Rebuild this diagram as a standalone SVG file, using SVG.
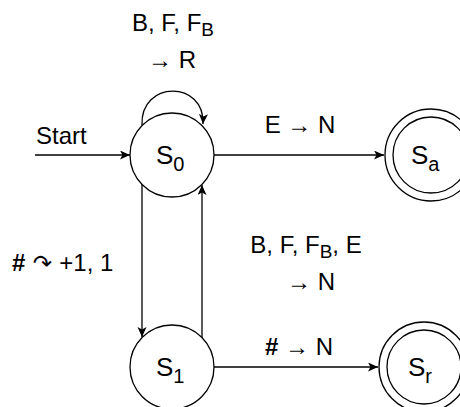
<svg xmlns="http://www.w3.org/2000/svg" width="460" height="407" viewBox="0 0 460 407">
<style>
.st{fill:#fff;stroke:#000;stroke-width:1.3}
.e{fill:none;stroke:#000;stroke-width:1.3}
text{font-family:"Liberation Sans",Arial,sans-serif;fill:#000}
.lb{font-size:24px}
.nm{font-size:26px}
.sub{font-size:19px}
.nsub{font-size:20px}
.b{font-weight:bold}
</style>
<defs>
<marker id="ah" markerUnits="userSpaceOnUse" markerWidth="12" markerHeight="10" refX="10" refY="4.5" orient="auto">
<path d="M0,0 L10,4.5 L0,9 L2.5,4.5 z" fill="#000"/>
</marker>
</defs>
<g id="edges">
<path class="e" d="M35,155 L130,155" marker-end="url(#ah)"/>
<path class="e" d="M142,125 C140,80 205,80 203,124" marker-end="url(#ah)"/>
<path class="e" d="M214,155 L384,155" marker-end="url(#ah)"/>
<path class="e" d="M142,184 L142,337" marker-end="url(#ah)"/>
<path class="e" d="M202,338 L202,185" marker-end="url(#ah)"/>
<path class="e" d="M214,367 L378,367" marker-end="url(#ah)"/>
</g>
<g id="labels">
<text class="lb" x="173" y="31" text-anchor="middle">B, F, F<tspan class="sub" dy="5">B</tspan></text>
<text class="lb" x="172" y="68" text-anchor="middle">→ R</text>
<text class="lb" x="36" y="144">Start</text>
<text class="lb" x="300" y="133" text-anchor="middle">E → N</text>
<text class="lb" x="12" y="271"><tspan class="b">#</tspan><tspan font-family="DejaVu Sans" font-size="23"> ↷ </tspan>+1, 1</text>
<text class="lb" x="306" y="253" text-anchor="middle">B, F, F<tspan class="sub" dy="5">B</tspan><tspan dy="-5">, E</tspan></text>
<text class="lb" x="311" y="290" text-anchor="middle">→ N</text>
<text class="lb" x="299" y="355" text-anchor="middle"><tspan class="b">#</tspan> → N</text>
</g>
<g id="S0">
<circle class="st" cx="172" cy="155" r="42"/>
<text class="nm" x="156" y="164">S<tspan class="nsub" dy="7">0</tspan></text>
</g>
<g id="S1">
<circle class="st" cx="172" cy="367" r="42"/>
<text class="nm" x="156" y="376">S<tspan class="nsub" dy="7">1</tspan></text>
</g>
<g id="Sa">
<circle class="st" cx="431" cy="155" r="46"/>
<circle class="st" cx="431" cy="155" r="38"/>
<text class="nm" x="411" y="164">S<tspan class="nsub" dy="7">a</tspan></text>
</g>
<g id="Sr">
<circle class="st" cx="424" cy="367" r="45"/>
<circle class="st" cx="424" cy="367" r="37"/>
<text class="nm" x="408" y="376">S<tspan class="nsub" dy="7">r</tspan></text>
</g>
</svg>
